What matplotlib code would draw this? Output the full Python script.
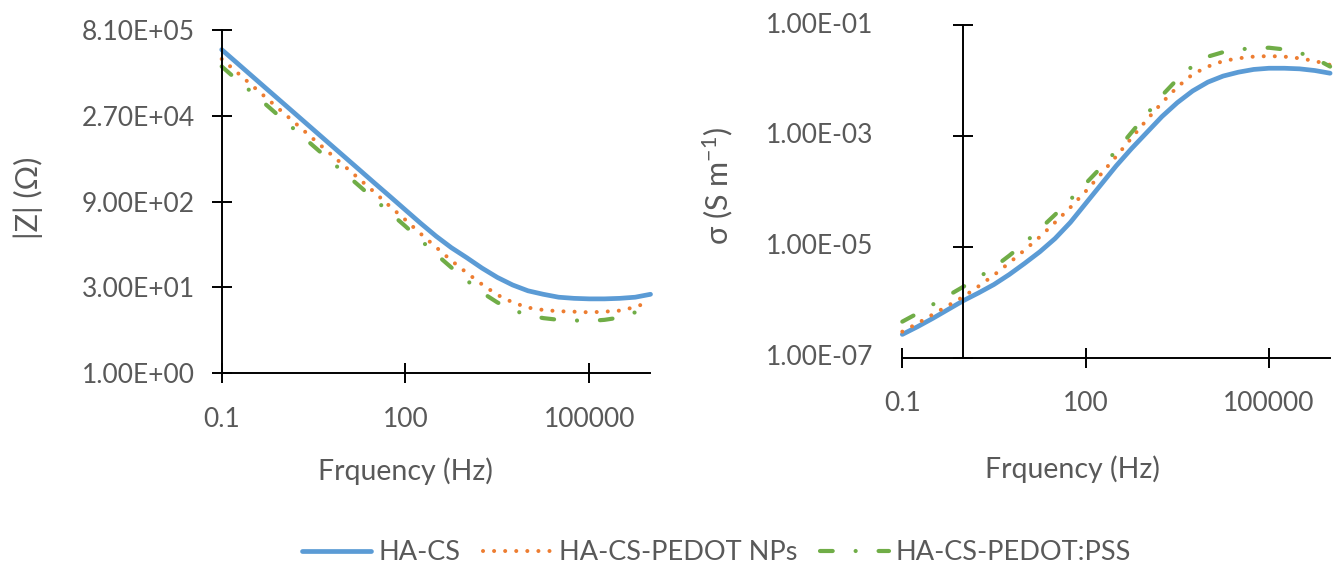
import matplotlib
matplotlib.use("Agg")
import matplotlib.pyplot as plt
from matplotlib.lines import Line2D
from matplotlib.transforms import blended_transform_factory

plt.rcParams['font.family'] = ['Lato', 'DejaVu Sans']
plt.rcParams['mathtext.default'] = 'regular'

# ---------------- data ----------------
freq = [0.1, 0.178, 0.316, 0.562, 1, 1.78, 3.16, 5.62, 10, 17.8, 31.6, 56.2,
        100, 178, 316, 562, 1000, 1778, 3162, 5623, 10000, 17783, 31623,
        56234, 100000, 177828, 316228, 562341, 1000000]

series_names = ["HA-CS", "HA-CS-PEDOT NPs", "HA-CS-PEDOT:PSS"]

# |Z| (Ohm)
z_hacs = [3.72e5, 2.19e5, 1.29e5, 7.59e4, 4.47e4, 2.63e4, 1.55e4, 9120, 5370,
          3160, 1860, 1100, 646, 380, 229, 145, 97.7, 64.6, 44.7, 33.1, 26.3,
          22.9, 20.4, 19.5, 19.1, 19.1, 19.5, 20.4, 22.9]
z_nps = [2.57e5, 1.51e5, 8.91e4, 5.25e4, 3.09e4, 1.82e4, 1.07e4, 6310, 3720,
         2190, 1290, 741, 437, 251, 148, 87.1, 53.7, 33.9, 22.4, 16.6, 13.5,
         12.3, 11.7, 11.5, 11.2, 11.5, 12.0, 13.8, 17.4]
z_pss = [1.91e5, 1.12e5, 6.76e4, 3.98e4, 2.34e4, 1.38e4, 8130, 4790, 2820,
         1660, 977, 575, 339, 195, 112, 66.1, 39.8, 24.5, 16.6, 12.3, 10.0,
         8.91, 8.32, 8.13, 7.94, 8.32, 9.12, 11.2, 15.8]

# conductivity sigma (S/m)
s_hacs = [2.63e-7, 3.63e-7, 5.13e-7, 7.41e-7, 1.07e-6, 1.48e-6, 2.09e-6,
          3.16e-6, 5.01e-6, 8.13e-6, 1.41e-5, 2.75e-5, 6.03e-5, 1.32e-4,
          2.88e-4, 5.89e-4, 1.15e-3, 2.24e-3, 3.98e-3, 6.46e-3, 9.33e-3,
          1.20e-2, 1.41e-2, 1.58e-2, 1.66e-2, 1.66e-2, 1.62e-2, 1.51e-2, 1.35e-2]
s_nps = [2.95e-7, 4.17e-7, 6.03e-7, 8.71e-7, 1.26e-6, 1.95e-6, 3.09e-6,
         5.13e-6, 8.71e-6, 1.51e-5, 2.75e-5, 5.13e-5, 1.00e-4, 2.04e-4,
         4.27e-4, 9.12e-4, 1.95e-3, 3.98e-3, 7.59e-3, 1.29e-2, 1.78e-2,
         2.24e-2, 2.51e-2, 2.69e-2, 2.75e-2, 2.69e-2, 2.51e-2, 2.24e-2, 1.91e-2]
s_pss = [4.47e-7, 6.31e-7, 9.12e-7, 1.32e-6, 1.91e-6, 2.82e-6, 4.27e-6,
         6.92e-6, 1.17e-5, 2.09e-5, 3.80e-5, 7.08e-5, 1.38e-4, 2.69e-4,
         5.37e-4, 1.15e-3, 2.45e-3, 5.37e-3, 1.05e-2, 1.82e-2, 2.69e-2,
         3.24e-2, 3.63e-2, 3.80e-2, 3.89e-2, 3.63e-2, 3.16e-2, 2.51e-2, 1.78e-2]

x_ticks = [0.1, 100, 100000]
x_ticklabels = ["0.1", "100", "100000"]
z_ticks = [1, 30, 900, 27000, 810000]
z_ticklabels = ["1.00E+00", "3.00E+01", "9.00E+02", "2.70E+04", "8.10E+05"]
s_ticks = [1e-7, 1e-5, 1e-3, 1e-1]
s_ticklabels = ["1.00E-07", "1.00E-05", "1.00E-03", "1.00E-01"]

# ---------------- style ----------------
colors = ["#5B9BD5", "#ED7D31", "#70AD47"]
styles = [
    dict(lw=3.4, ls='-', solid_capstyle='round'),
    dict(lw=2.9, ls=(0, (0.01, 2.74)), dash_capstyle='round'),
    dict(lw=3.0, ls=(0, (3.05, 5.5, 0.01, 5.5)), dash_capstyle='round'),
]
gray = "#595959"
tick_fs = 19
title_fs = 20.5
legend_fs = 19.5

W, H = 1338, 568
fig = plt.figure(figsize=(W / 100, H / 100), dpi=100)

axL = fig.add_axes([221.7 / W, 1 - 373.3 / H, 428.8 / W, 343.3 / H])
axR = fig.add_axes([902.3 / W, 1 - 357.7 / H, 427.8 / W, 332.7 / H])


def style_axes(ax):
    ax.set_xscale('log')
    ax.set_yscale('log')
    ax.set_xlim(0.1, 1e6)
    for sp in ['top', 'right']:
        ax.spines[sp].set_visible(False)
    for sp in ['left', 'bottom']:
        ax.spines[sp].set_linewidth(1.4)
        ax.spines[sp].set_color('black')
    ax.tick_params(which='major', direction='inout', length=14.4, width=1.4,
                   color='black', labelcolor=gray, labelsize=tick_fs)
    ax.set_xticks(x_ticks)
    ax.set_xticklabels(x_ticklabels)
    ax.tick_params(axis='x', pad=17)
    ax.minorticks_off()


# Left: |Z|
style_axes(axL)
axL.set_ylim(1, 810000)
for vals, c, st in zip([z_hacs, z_nps, z_pss], colors, styles):
    axL.plot(freq, vals, color=c, **st, clip_on=False)
axL.set_yticks(z_ticks)
axL.set_yticklabels(z_ticklabels)
axL.tick_params(axis='y', pad=12)
axL.minorticks_off()
fig.text(28 / W, 1 - 198 / H, "|Z| (Ω)", rotation=90, ha='center', va='center',
         fontsize=22, color=gray)
fig.text(405 / W, 1 - 471 / H, "Frquency (Hz)", ha='center', va='center',
         fontsize=title_fs, color=gray)

# Right: sigma
style_axes(axR)
axR.set_ylim(1e-7, 1e-1)
for vals, c, st in zip([s_hacs, s_nps, s_pss], colors, styles):
    axR.plot(freq, vals, color=c, **st, clip_on=False)
axR.spines['left'].set_position(('data', 1))
axR.set_yticks(s_ticks)
axR.set_yticklabels([])
axR.minorticks_off()
tr = blended_transform_factory(axR.transAxes, axR.transData)
for v, lab in zip(s_ticks, s_ticklabels):
    axR.text((873 - 902.3) / 427.8, v, lab, transform=tr, ha='right',
             va='center', fontsize=tick_fs, color=gray)
fig.text(718 / W, 1 - 186 / H, r"σ (S m$^{-1}$)", rotation=90, ha='center',
         va='center', fontsize=22, color=gray)
fig.text(1072 / W, 1 - 469 / H, "Frquency (Hz)", ha='center', va='center',
         fontsize=title_fs, color=gray)

# Legend
handles = [Line2D([], [], color=c, **st) for c, st in zip(colors, styles)]
fig.legend(handles, series_names, loc='center left',
           bbox_to_anchor=(302 / W, 1 - 553 / H),
           ncol=3, frameon=False, fontsize=legend_fs, labelcolor=gray,
           handlelength=2.55, handletextpad=0.27, columnspacing=0.82,
           borderpad=0, borderaxespad=0)

fig.savefig("out.png", dpi=100)
